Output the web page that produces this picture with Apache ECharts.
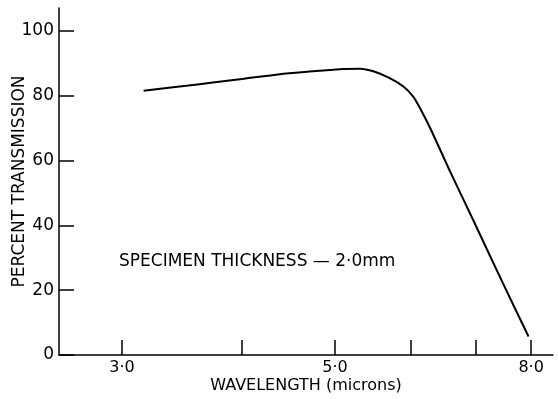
<!DOCTYPE html>
<html><head><meta charset="utf-8">
<script src="https://cdn.jsdelivr.net/npm/echarts@6/dist/echarts.min.js"></script>
<style>html,body{margin:0;padding:0;background:#fff}#c{width:558px;height:399px}</style>
</head><body><div id="c"></div>
<script>
const wavelength = [3.16, 3.5, 3.73, 4.0, 4.38, 4.7, 4.94, 5.1, 5.31, 5.48, 5.70, 5.89, 6.03, 6.13, 6.28, 6.58, 6.96, 7.48, 7.95];
const transmission = [81.5, 83.0, 84.0, 85.1, 86.6, 87.4, 87.9, 88.2, 88.3, 87.5, 85.4, 82.8, 79.7, 76.1, 70.0, 56.9, 41.7, 22.0, 5.7];
const xTicks = [3, 4, 5, 6, 7, 8];
const xLabels = [3, 5, 8];
const yTicks = [0, 20, 40, 60, 80, 100];
const annotation = 'SPECIMEN THICKNESS — 2·0mm';

const font = 'DejaVu Sans';
const chart = echarts.init(document.getElementById('c'));
chart.setOption({
  animation: false,
  backgroundColor: '#fff',
  grid: {left: 59, right: 5, top: 8, bottom: 44, containLabel: false, outerBoundsMode: 'none'},
  xAxis: {
    type: 'log', logBase: 10, min: 2.58, max: 8.43,
    name: 'WAVELENGTH (microns)', nameLocation: 'middle', nameGap: 23, nameMoveOverlap: false,
    nameTextStyle: {fontFamily: font, fontSize: 16, color: '#000', verticalAlign: 'top'},
    axisLine: {lineStyle: {color: '#000', width: 1.5}},
    axisTick: {inside: true, length: 15, customValues: xTicks, lineStyle: {color: '#000', width: 1.5}},
    axisLabel: {customValues: xLabels, margin: 5, fontFamily: font, fontSize: 16, color: '#000',
      formatter: v => Number(v).toFixed(1).replace('.', '·')},
    splitLine: {show: false}, minorTick: {show: false}
  },
  yAxis: {
    type: 'value', min: 0, max: 107,
    name: 'PERCENT TRANSMISSION', nameLocation: 'middle', nameGap: 31, nameMoveOverlap: false,
    nameTextStyle: {fontFamily: font, fontSize: 17, color: '#000'},
    axisLine: {show: true, lineStyle: {color: '#000', width: 1.5}},
    axisTick: {show: true, inside: true, length: 15, customValues: yTicks, lineStyle: {color: '#000', width: 1.5}},
    axisLabel: {customValues: yTicks, margin: 5, fontFamily: font, fontSize: 17, color: '#000'},
    splitLine: {show: false}
  },
  graphic: [{type: 'text', left: 119, top: 253, style: {text: annotation, font: '17px "DejaVu Sans"', fill: '#000'}}],
  series: [{
    type: 'line', data: wavelength.map((w, i) => [w, transmission[i]]),
    smooth: 0.25, symbol: 'none', lineStyle: {color: '#000', width: 2}
  }]
});
</script></body></html>
